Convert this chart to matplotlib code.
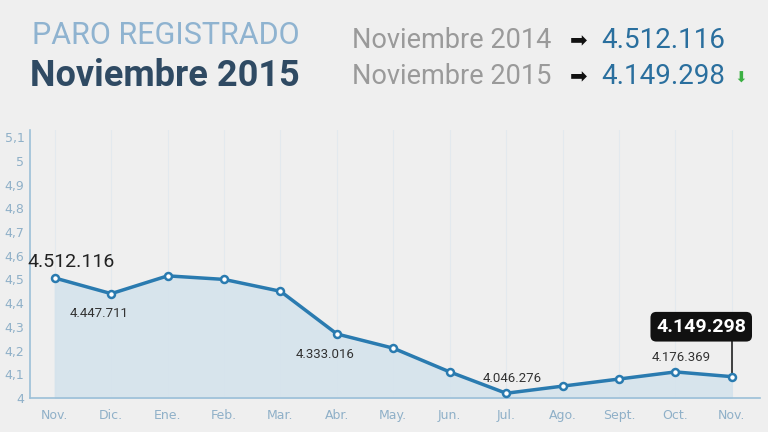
import matplotlib
matplotlib.use("Agg")
import matplotlib.pyplot as plt

months = ["Nov.", "Dic.", "Ene.", "Feb.", "Mar.", "Abr.", "May.", "Jun.", "Jul.", "Ago.", "Sept.", "Oct.", "Nov."]
values = [4.506, 4.44, 4.515, 4.50, 4.45, 4.27, 4.21, 4.11, 4.02, 4.05, 4.08, 4.11, 4.09]
yticks = [4, 4.1, 4.2, 4.3, 4.4, 4.5, 4.6, 4.7, 4.8, 4.9, 5, 5.1]
ylabels = ["4", "4,1", "4,2", "4,3", "4,4", "4,5", "4,6", "4,7", "4,8", "4,9", "5", "5,1"]
point_labels = {0: "4.512.116", 1: "4.447.711", 5: "4.333.016", 8: "4.046.276", 11: "4.176.369"}
last_label = "4.149.298"

bg = "#efefef"
fig = plt.figure(figsize=(7.68, 4.32), dpi=100, facecolor=bg)
ax = fig.add_axes([30/768, 1-398/432, 730/768, 268/432], facecolor=bg)
x = list(range(len(values)))
ax.fill_between(x, values, 4, color="#d5e3ec", alpha=0.9, zorder=1)
for xi in x:
    ax.axvline(xi, color="#e3e9ee", lw=0.8, zorder=0.5)
ax.plot(x, values, color="#2a7bb0", lw=2.5, marker="o", ms=5, mfc="white", mec="#2a7bb0", mew=1.8, zorder=3)
ax.set_xlim(-0.44, 12.5)
ax.set_ylim(4, 5.13)
ax.set_yticks(yticks)
ax.set_yticklabels(ylabels)
ax.set_xticks(x)
ax.set_xticklabels(months)
ax.tick_params(axis="x", length=0, labelsize=9, colors="#8fb0c8", pad=8)
ax.tick_params(axis="y", length=0, labelsize=9, colors="#8fb0c8", pad=4)
for s in ["top", "right"]:
    ax.spines[s].set_visible(False)
for s in ["left", "bottom"]:
    ax.spines[s].set_color("#9cc0d8")
    ax.spines[s].set_linewidth(1.2)

ax.annotate(point_labels[0], (0, values[0]), xytext=(-20, 8), textcoords="offset points", fontsize=14, color="#222222", family="Roboto", zorder=4)
for i in [1, 5, 8, 11]:
    off = (-30, -17) if i in (1, 5) else (-17, 8)
    ax.annotate(point_labels[i], (i, values[i]), xytext=off, textcoords="offset points", fontsize=9.5, color="#333333", family="Roboto")
n = len(values) - 1
top = 4.245
ax.plot([n, n], [values[n], top], color="#222222", lw=1.2, zorder=2)
ax.annotate(last_label, (n, top), xytext=(-22, 3), textcoords="offset points", ha="center", va="bottom",
            fontsize=14, color="white", family="Roboto", fontweight="bold",
            bbox=dict(boxstyle="round,pad=0.3", fc="#111111", ec="none"))

fig.text(32/768, 1-36/432, "PARO REGISTRADO", fontsize=22, color="#8fb3d0", family="Roboto", va="center")
fig.text(30/768, 1-76/432, "Noviembre 2015", fontsize=26, color="#2f4a63", family="Roboto", fontweight="bold", va="center")
fig.text(352/768, 1-41/432, "Noviembre 2014", fontsize=19.5, color="#9a9a9a", family="Roboto", va="center")
fig.text(352/768, 1-77/432, "Noviembre 2015", fontsize=19.5, color="#9a9a9a", family="Roboto", va="center")
fig.text(570/768, 1-41/432, "\u27a1", fontsize=15, color="#111111", family="DejaVu Sans", va="center")
fig.text(570/768, 1-77/432, "\u27a1", fontsize=15, color="#111111", family="DejaVu Sans", va="center")
fig.text(601/768, 1-41/432, "4.512.116", fontsize=20, color="#2a6f9e", family="Roboto", va="center")
fig.text(601/768, 1-77/432, "4.149.298", fontsize=20, color="#2a6f9e", family="Roboto", va="center")
fig.text(734/768, 1-78/432, "\u2b07", fontsize=11, color="#3cb043", family="DejaVu Sans", va="center")

fig.savefig("out.png", dpi=100, facecolor=bg)
